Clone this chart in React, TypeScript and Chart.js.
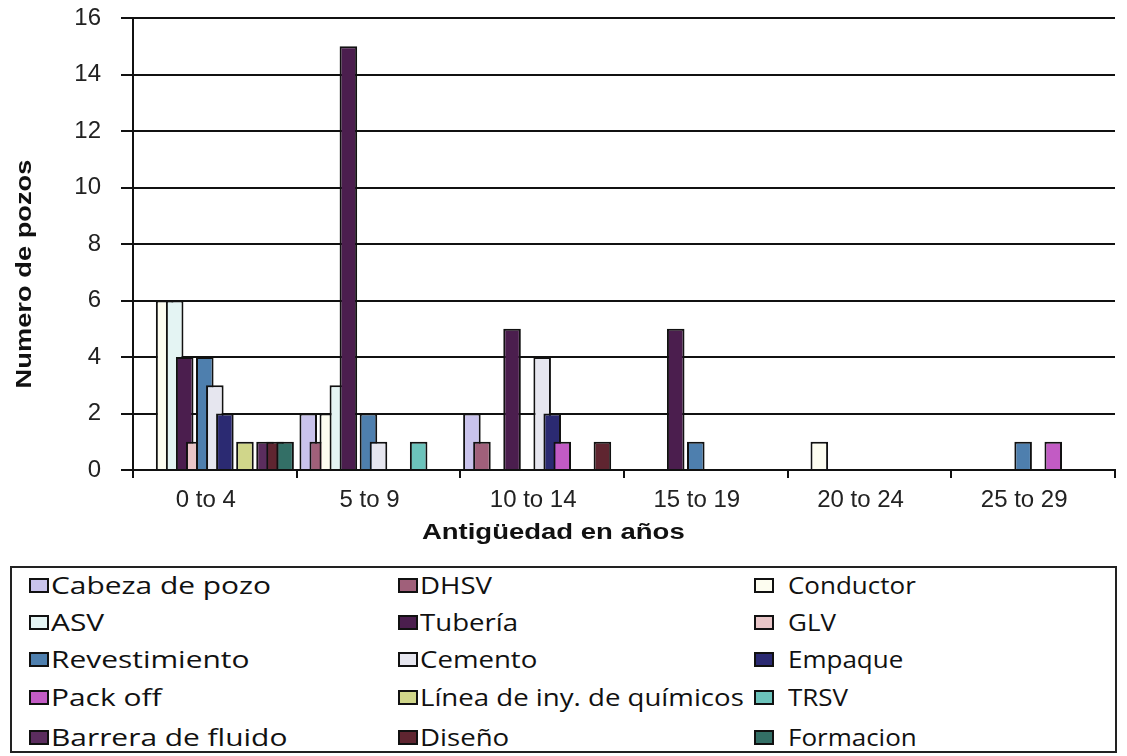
import React, { useEffect, useRef } from "react";
import { Chart, registerables } from "chart.js";

Chart.register(...registerables);

const categories = ["0 to 4", "5 to 9", "10 to 14", "15 to 19", "20 to 24", "25 to 29"];

const seriesNames = [
  "Cabeza de pozo", "DHSV", "Conductor",
  "ASV", "Tubería", "GLV",
  "Revestimiento", "Cemento", "Empaque",
  "Pack off", "Línea de iny. de químicos", "TRSV",
  "Barrera de fluido", "Diseño", "Formacion",
];

const seriesColors = [
  "#c9c3ec", "#a0607a", "#fdfdf0",
  "#e4f4f3", "#4b1e4e", "#e9c6c8",
  "#4e7fae", "#e6e6ef", "#2b2a72",
  "#c25bc4", "#d0d68a", "#6cc3bb",
  "#5b2d5e", "#5f2530", "#336f66",
];

const cabezaDePozo = [0, 2, 2, 0, 0, 0];
const dhsv = [0, 1, 1, 0, 0, 0];
const conductor = [6, 2, 0, 0, 1, 0];
const asv = [6, 3, 0, 0, 0, 0];
const tuberia = [4, 15, 5, 5, 0, 0];
const glv = [1, 0, 0, 0, 0, 0];
const revestimiento = [4, 2, 0, 1, 0, 1];
const cemento = [3, 1, 4, 0, 0, 0];
const empaque = [2, 0, 2, 0, 0, 0];
const packOff = [0, 0, 1, 0, 0, 1];
const lineaQuimicos = [1, 0, 0, 0, 0, 0];
const trsv = [0, 1, 0, 0, 0, 0];
const barreraFluido = [1, 0, 0, 0, 0, 0];
const diseno = [1, 0, 1, 0, 0, 0];
const formacion = [1, 0, 0, 0, 0, 0];

const seriesValues = [
  cabezaDePozo, dhsv, conductor,
  asv, tuberia, glv,
  revestimiento, cemento, empaque,
  packOff, lineaQuimicos, trsv,
  barreraFluido, diseno, formacion,
];

const yTicks = [0, 2, 4, 6, 8, 10, 12, 14, 16];

const yTitle = "Numero de pozos";
const xTitle = "Antigüedad en años";

const TICK_FONT = "'Liberation Sans', Arial, sans-serif";

// draw datasets in index order so later series sit on top (as in the reference)
const drawOrderPlugin = {
  id: "drawOrderPlugin",
  beforeDatasetsDraw(chart: any) {
    const metas = chart.getSortedVisibleDatasetMetas();
    for (const meta of metas) meta.controller.draw();
    return false;
  },
};

const titlesPlugin = {
  id: "titlesPlugin",
  afterDraw(chart: any) {
    const { ctx, chartArea } = chart;
    ctx.save();
    ctx.fillStyle = "#111";
    ctx.textAlign = "center";
    ctx.textBaseline = "middle";
    ctx.font = "bold 22px 'Liberation Sans', Arial, sans-serif";
    // x title
    const x = chartArea.left + (chartArea.right - chartArea.left) * 0.428;
    ctx.save();
    ctx.translate(x, 533);
    ctx.scale(1.25, 1);
    ctx.fillText(xTitle, 0, 0);
    ctx.restore();
    // y title
    ctx.save();
    ctx.translate(25, 274);
    ctx.rotate(-Math.PI / 2);
    ctx.scale(1.24, 1);
    ctx.fillText(yTitle, 0, 0);
    ctx.restore();
    ctx.restore();
  },
};

export default function App() {
  const canvasRef = useRef<HTMLCanvasElement | null>(null);

  useEffect(() => {
    if (!canvasRef.current) return;
    const datasets = seriesNames.map((name, i) => ({
      label: name,
      data: seriesValues[i].map((v) => (v === 0 ? null : v)),
      backgroundColor: seriesColors[i],
      borderColor: "#111",
      borderWidth: 2,
      borderSkipped: "start" as const,
      categoryPercentage: 0.92,
      barPercentage: 1.75,
    }));
    const chart = new Chart(canvasRef.current, {
      type: "bar",
      data: { labels: categories, datasets },
      options: {
        animation: false,
        responsive: false,
        maintainAspectRatio: false,
        layout: { padding: { top: 18, right: 12, left: 0, bottom: 0 } },
        plugins: {
          legend: { display: false },
          tooltip: { enabled: false },
        },
        scales: {
          x: {
            grid: {
              display: true,
              drawOnChartArea: false,
              drawTicks: true,
              tickLength: 8,
              color: "#111",
              lineWidth: 2,
              offset: true,
            },
            border: { display: true, color: "#111", width: 2 },
            ticks: {
              font: { family: TICK_FONT, size: 24 },
              color: "#222",
              padding: 8,
              labelOffset: -9,
              maxRotation: 0,
              autoSkip: false,
            },
            afterFit: (s: any) => {
              s.height = 90;
              s.paddingLeft = 0;
              s.paddingRight = 0;
            },
          },
          y: {
            min: 0,
            max: 16,
            afterBuildTicks: (s: any) => {
              s.ticks = yTicks.map((v) => ({ value: v }));
            },
            ticks: {
              font: { family: TICK_FONT, size: 24 },
              color: "#222",
              padding: 20,
            },
            grid: { color: "#111", lineWidth: 2, tickLength: 12 },
            border: { display: true, color: "#111", width: 2 },
            afterFit: (s: any) => {
              s.width = 133;
              s.paddingTop = 0;
              s.paddingBottom = 0;
            },
          },
        },
      },
      plugins: [drawOrderPlugin, titlesPlugin],
    });
    return () => chart.destroy();
  }, []);

  const colLefts = [19, 388, 744];
  const colScales = [1.3, 1.2, 1.13];
  const rowCenters = [19, 56, 93, 131, 171];

  return (
    <div
      style={{
        position: "absolute",
        left: 0,
        top: 0,
        width: 1127,
        height: 756,
        background: "#fff",
        overflow: "hidden",
      }}
    >
      <canvas
        ref={canvasRef}
        width={1127}
        height={560}
        style={{ position: "absolute", left: 0, top: 0, width: 1127, height: 560 }}
      />
      <div
        style={{
          position: "absolute",
          left: 10,
          top: 566,
          width: 1107,
          height: 187,
          boxSizing: "border-box",
          border: "2px solid #222",
          fontFamily: "'Open Sans', 'Noto Sans', sans-serif",
          fontSize: 23,
          color: "#111",
        }}
      >
        {seriesNames.map((name, i) => {
          const col = i % 3;
          const row = Math.floor(i / 3);
          return (
            <div
              key={name}
              style={{
                position: "absolute",
                left: colLefts[col] - 2,
                top: rowCenters[row] - 2 - 16,
                height: 32,
                display: "flex",
                alignItems: "center",
                whiteSpace: "nowrap",
              }}
            >
              <span
                style={{
                  display: "inline-block",
                  width: 20,
                  height: 15,
                  boxSizing: "border-box",
                  border: "2px solid #111",
                  background: seriesColors[i],
                  marginRight: col === 2 ? 14 : 2,
                }}
              />
              <span
                style={{
                  display: "inline-block",
                  transform: `scaleX(${colScales[col]})`,
                  transformOrigin: "left center",
                }}
              >
                {name}
              </span>
            </div>
          );
        })}
      </div>
    </div>
  );
}
